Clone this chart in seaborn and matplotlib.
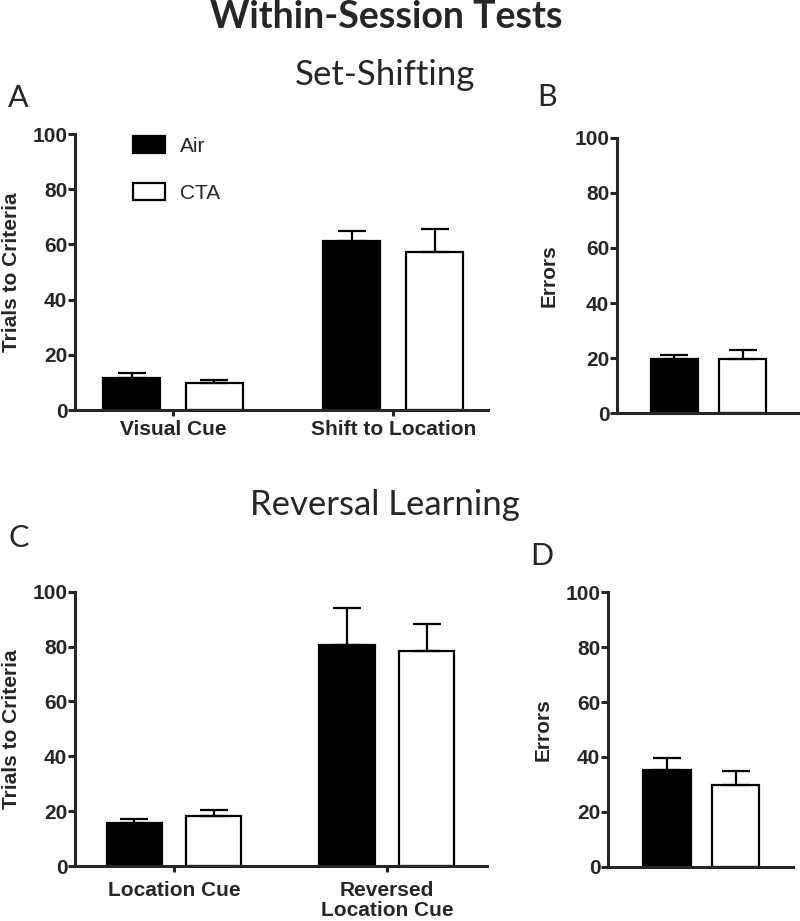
import numpy as np
import pandas as pd
import matplotlib
matplotlib.use("Agg")
import matplotlib.pyplot as plt
import seaborn as sns

# values (mean and upper SEM)
groups = ["Air", "CTA"]
shift_cats = ["Visual Cue", "Shift to Location"]
shift_air = [11.7, 61.2]
shift_air_sem = [1.8, 3.8]
shift_cta = [9.7, 57.2]
shift_cta_sem = [1.3, 8.4]

shift_err_air = [19.6]
shift_err_air_sem = [1.4]
shift_err_cta = [19.6]
shift_err_cta_sem = [3.3]

rev_cats = ["Location Cue", "Reversed\nLocation Cue"]
rev_air = [15.6, 80.4]
rev_air_sem = [1.6, 13.5]
rev_cta = [18.1, 78.3]
rev_cta_sem = [2.4, 10.1]

rev_err_air = [35.3]
rev_err_air_sem = [4.3]
rev_err_cta = [29.7]
rev_err_cta_sem = [5.2]

sns.set_theme(style="ticks")
plt.rcParams["font.family"] = ["Liberation Sans", "DejaVu Sans"]
TITLE_FONT = ["Lato", "DejaVu Sans"]

W, H = 800, 921
fig = plt.figure(figsize=(W / 100, H / 100), dpi=100)


def px_axes(x0, x1, y_top, y_bot):
    return fig.add_axes([x0 / W, 1 - y_bot / H, (x1 - x0) / W, (y_bot - y_top) / H])


def make_df(cats, air, cta, air_sem, cta_sem):
    rows = []
    for c, v, s in zip(cats, air, air_sem):
        rows.append({"cat": c, "group": "Air", "val": v, "sem": s})
    for c, v, s in zip(cats, cta, cta_sem):
        rows.append({"cat": c, "group": "CTA", "val": v, "sem": s})
    return pd.DataFrame(rows)


def draw_panel(ax, df, ylabel, xlim, show_xticks=True, legend=False, xpad=3):
    sns.barplot(data=df, x="cat", y="val", hue="group", hue_order=groups,
                palette=["black", "white"], edgecolor="black", linewidth=1.6,
                width=0.75, gap=0.31, errorbar=None, legend=legend, ax=ax,
                saturation=1)
    # upper-only error bars at the bar tops
    for cont, g in zip(ax.containers, groups):
        sems = df[df["group"] == g]["sem"].values
        for bar, s in zip(cont, sems):
            cx = bar.get_x() + bar.get_width() / 2
            h = bar.get_height()
            ax.errorbar([cx], [h], yerr=[[0], [s]], fmt="none", ecolor="black",
                        elinewidth=1.6, capsize=10, capthick=1.6, zorder=1)
    ax.set_ylim(0, 100)
    ax.set_xlim(*xlim)
    ax.set_yticks(np.arange(0, 101, 20))
    ax.set_ylabel(ylabel, fontsize=15, fontweight="bold")
    ax.set_xlabel("")
    for s in ["top", "right"]:
        ax.spines[s].set_visible(False)
    for s in ["left", "bottom"]:
        ax.spines[s].set_linewidth(2.2)
    ax.tick_params(axis="y", width=2.2, length=5, labelsize=15, pad=0.5)
    ax.tick_params(axis="x", width=2.2, length=4.5, labelsize=15, pad=xpad)
    for t in ax.get_yticklabels() + ax.get_xticklabels():
        t.set_fontweight("bold")
    if not show_xticks:
        ax.set_xticks([])
    ax.set_facecolor("white")


# A: set-shifting trials
axA = px_axes(75, 488, 134, 410)
dfA = make_df(shift_cats, shift_air, shift_cta, shift_air_sem, shift_cta_sem)
draw_panel(axA, dfA, "Trials to Criteria", (-0.445, 1.43), legend=True, xpad=3)
axA.legend(loc="upper left", bbox_to_anchor=((133 - 75) / 413, (410 - 136) / 276),
           frameon=False, fontsize=15, borderpad=0, borderaxespad=0,
           handlelength=1.55, handleheight=0.9, labelspacing=1.3, handletextpad=0.7)
axA.yaxis.set_label_coords(-0.13, 0.5)

# B: set-shifting errors
axB = px_axes(617, 800, 137.7, 413.3)
dfB = make_df([""], shift_err_air, shift_err_cta, shift_err_air_sem, shift_err_cta_sem)
draw_panel(axB, dfB, "Errors", (-0.5, 0.5), show_xticks=False)
axB.yaxis.set_label_coords(-0.317, 0.5)

# C: reversal trials
axC = px_axes(75, 487, 591.7, 866)
dfC = make_df(rev_cats, rev_air, rev_cta, rev_air_sem, rev_cta_sem)
draw_panel(axC, dfC, "Trials to Criteria", (-0.465, 1.47), xpad=6)
axC.yaxis.set_label_coords(-0.13, 0.5)
for t in axC.get_xticklabels():
    t.set_linespacing(1.1)

# D: reversal errors
axD = px_axes(608, 793, 592.3, 866.7)
dfD = make_df([""], rev_err_air, rev_err_cta, rev_err_air_sem, rev_err_cta_sem)
draw_panel(axD, dfD, "Errors", (-0.51, 0.5), show_xticks=False)
axD.yaxis.set_label_coords(-0.297, 0.5)

# titles and panel letters
fig.text(386 / W, 1 - 28 / H, "Within-Session Tests", ha="center", va="baseline",
         fontsize=27, fontweight="bold", family=TITLE_FONT)
fig.text(385 / W, 1 - 85 / H, "Set-Shifting", ha="center", va="baseline",
         fontsize=25, family=TITLE_FONT)
fig.text(385 / W, 1 - 515 / H, "Reversal Learning", ha="center", va="baseline",
         fontsize=25, family=TITLE_FONT)
for letter, x, y in [("A", 8, 107), ("B", 537, 106), ("C", 9, 547), ("D", 530, 565)]:
    fig.text(x / W, 1 - y / H, letter, ha="left", va="baseline", fontsize=22,
             family=TITLE_FONT)

fig.savefig("out.png", dpi=100, facecolor="white")
